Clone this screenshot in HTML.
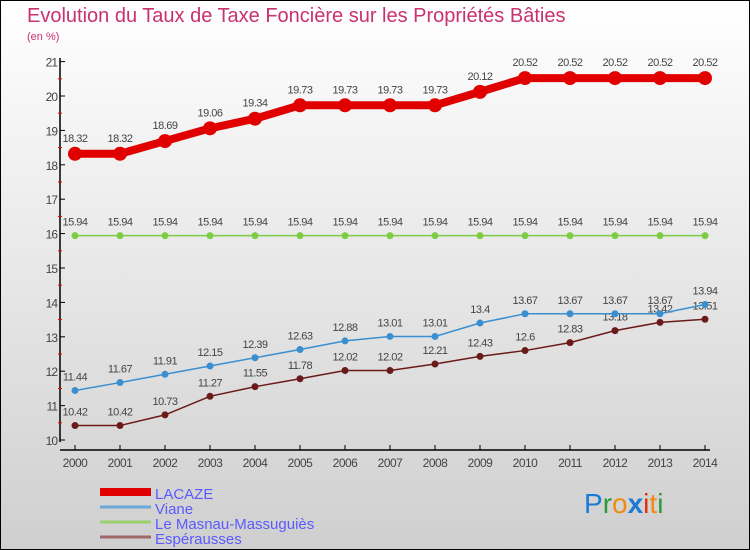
<!DOCTYPE html>
<html><head><meta charset="utf-8"><style>
body{margin:0}
#c{width:750px;height:550px;position:relative;background:linear-gradient(#fff,#cfcfcf);font-family:"Liberation Sans",sans-serif;overflow:hidden;box-sizing:border-box;border:1px solid #000}
</style></head><body>
<div id="c">
<svg id="s" width="750" height="550" style="position:absolute;left:-1px;top:-1px">
<text x="27" y="22" font-size="20" fill="#c8326e">Evolution du Taux de Taxe Foncière sur les Propriétés Bâties</text>
<text x="27" y="40" font-size="11" fill="#c8326e">(en %)</text>
<g id="g"></g>
<text x="584" y="513" font-size="28"><tspan fill="#1a7ad4">P</tspan><tspan fill="#2a9a3a">r</tspan><tspan fill="#f08a10">o</tspan><tspan fill="#1a7ad4" font-weight="bold">x</tspan><tspan fill="#e03010">i</tspan><tspan fill="#f08a10">t</tspan><tspan fill="#2a9a3a">i</tspan></text>
</svg></div>
<script>
const years=[2000,2001,2002,2003,2004,2005,2006,2007,2008,2009,2010,2011,2012,2013,2014];
const lacaze=[18.32,18.32,18.69,19.06,19.34,19.73,19.73,19.73,19.73,20.12,20.52,20.52,20.52,20.52,20.52];
const viane=[11.44,11.67,11.91,12.15,12.39,12.63,12.88,13.01,13.01,13.4,13.67,13.67,13.67,13.67,13.94];
const masnau=[15.94,15.94,15.94,15.94,15.94,15.94,15.94,15.94,15.94,15.94,15.94,15.94,15.94,15.94,15.94];
const esper=[10.42,10.42,10.73,11.27,11.55,11.78,12.02,12.02,12.21,12.43,12.6,12.83,13.18,13.42,13.51];
const yTicks=[10,11,12,13,14,15,16,17,18,19,20,21];
const names=["LACAZE","Viane","Le Masnau-Massuguiès","Espérausses"];
const NS="http://www.w3.org/2000/svg";
const g=document.getElementById('g');
const X=i=>75+i*45, Y=v=>440-(v-10)*34.4;
function el(t,a){const e=document.createElementNS(NS,t);for(const k in a)e.setAttribute(k,a[k]);g.appendChild(e);return e;}
let ax=el('line',{x1:60,y1:58,x2:60,y2:442,stroke:'#000','stroke-width':1.5});


let xa=el('line',{x1:60,y1:450,x2:710,y2:450,stroke:'#000','stroke-width':1.5});


yTicks.forEach(v=>{
 el('line',{x1:60,y1:Y(v),x2:65,y2:Y(v),stroke:'#000'});
 if(v<21)el('line',{x1:58,y1:Y(v+0.5),x2:62,y2:Y(v+0.5),stroke:'#e00'});
 let t=el('text',{x:57,y:Y(v)+5,'font-size':12,fill:'#444','text-anchor':'end','letter-spacing':'-1'});t.textContent=v;
 
 
});
years.forEach((y,i)=>{
 el('line',{x1:X(i),y1:445,x2:X(i),y2:450,stroke:'#000'});
 let t=el('text',{x:X(i),y:467,'font-size':12,fill:'#444','text-anchor':'middle','letter-spacing':'-0.5'});t.textContent=y;
 
 
});
function series(d,col,w,r,name,dy){
 let p=el('polyline',{points:d.map((v,i)=>X(i)+','+Y(v)).join(' '),fill:'none',stroke:col,'stroke-width':w});
 
 
 d.forEach((v,i)=>{
  let c=el('circle',{cx:X(i),cy:Y(v),r:r,fill:col});
  
  
  let t=el('text',{x:X(i),y:Y(v)-dy,'font-size':11,fill:'#444','text-anchor':'middle','letter-spacing':'-0.5'});t.textContent=v;
  
  
 });
}
series(esper,'#6b1a1a',1.5,3.5,'esperausses',10);
series(viane,'#3a8fd0',1.5,3.5,'viane',10);
series(masnau,'#7ccc44',1.5,3.5,'masnau',10);
series(lacaze,'#e00000',8,7,'lacaze',12);
const lcol=['#e00000','#6aa8d8','#9ad070','#a06868'],lw=[8,3,3,3];
names.forEach((n,i)=>{
 let yy=492+i*15;
 let l=el('line',{x1:100,y1:yy,x2:151,y2:yy,stroke:lcol[i],'stroke-width':lw[i]});
 
 
 let t=el('text',{x:155,y:yy+7,'font-size':15,fill:'#5a5aff'});t.textContent=n;
 
 
});
</script>
</body></html>
